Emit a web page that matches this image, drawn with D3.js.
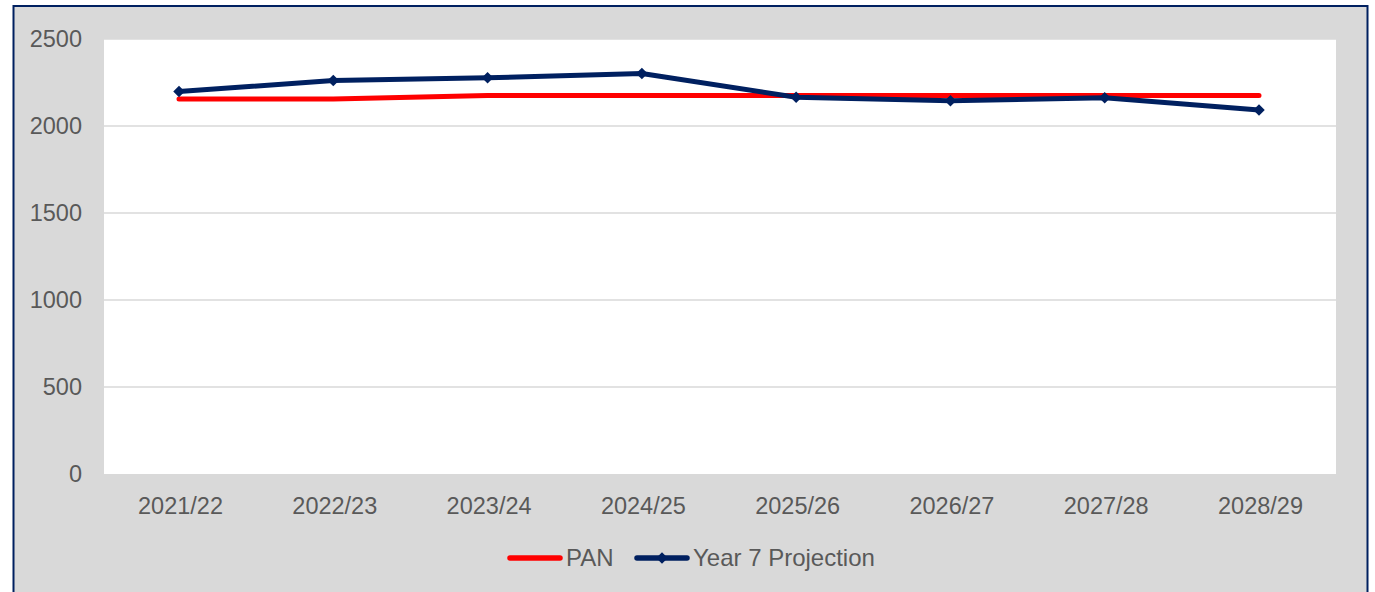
<!DOCTYPE html>
<html><head><meta charset="utf-8">
<script src="https://cdn.jsdelivr.net/npm/d3@7"></script>
<style>html,body{margin:0;padding:0;background:#fff;}svg{display:block;}</style>
</head><body>
<script>
const categories = ["2021/22","2022/23","2023/24","2024/25","2025/26","2026/27","2027/28","2028/29"];
const panValues = [2155,2155,2175,2175,2175,2175,2175,2175];
const year7Values = [2198,2262,2277,2302,2165,2145,2162,2092];
const yTicks = [0,500,1000,1500,2000,2500];
const seriesNames = ["PAN","Year 7 Projection"];

const W = 1375, H = 592;
const svg = d3.select("body").append("svg").attr("width", W).attr("height", H);
const font = "'Liberation Sans', Arial, sans-serif";

svg.append("rect").attr("x",13.5).attr("y",6).attr("width",1354).attr("height",600)
  .attr("fill","#d9d9d9").attr("stroke","#002060").attr("stroke-width",2);

const plot = {l:104, t:39, r:1336, b:474};
svg.append("rect").attr("x",plot.l).attr("y",plot.t).attr("width",plot.r-plot.l).attr("height",plot.b-plot.t).attr("fill","#fff");

const x = d3.scalePoint().domain(categories).range([plot.l+75, plot.r-77]);
const y = d3.scaleLinear().domain([0,2500]).range([plot.b, plot.t]);

svg.append("g").selectAll("line").data(yTicks.filter(t=>t>0)).join("line")
  .attr("x1",plot.l).attr("x2",plot.r).attr("y1",d=>y(d)).attr("y2",d=>y(d))
  .attr("stroke","#d9d9d9").attr("stroke-width",1.5);

const yAxis = d3.axisLeft(y).tickValues(yTicks).tickFormat(d3.format("d")).tickSize(0).tickPadding(22);
const yg = svg.append("g").attr("transform",`translate(${plot.l},0)`).call(yAxis);
yg.select(".domain").remove();
yg.selectAll("text").attr("font-family",font).attr("font-size",23.5).attr("fill","#595959");

const xAxis = d3.axisBottom(x).tickSize(0).tickPadding(23);
const xg = svg.append("g").attr("transform",`translate(1,${plot.b})`).call(xAxis);
xg.select(".domain").remove();
xg.selectAll("text").attr("font-family",font).attr("font-size",23.5).attr("fill","#595959");

const line = d3.line().x((d,i)=>x(categories[i])).y(d=>y(d));

svg.append("path").datum(panValues).attr("d",line).attr("fill","none")
  .attr("stroke","#ff0000").attr("stroke-width",5).attr("stroke-linecap","round").attr("stroke-linejoin","round");
svg.append("path").datum(year7Values).attr("d",line).attr("fill","none")
  .attr("stroke","#002060").attr("stroke-width",5).attr("stroke-linecap","round").attr("stroke-linejoin","round");

const diamond = d3.symbol().type(d3.symbolDiamond2).size(85);
svg.append("g").selectAll("path").data(year7Values).join("path")
  .attr("d",diamond).attr("transform",(d,i)=>`translate(${x(categories[i])},${y(d)})`)
  .attr("fill","#002060");

const lg = svg.append("g");
const ly = 558;
lg.append("line").attr("x1",510).attr("x2",560).attr("y1",ly).attr("y2",ly)
  .attr("stroke","#ff0000").attr("stroke-width",5.5).attr("stroke-linecap","round");
lg.append("text").attr("x",566).attr("y",ly).attr("dy","0.35em").text(seriesNames[0])
  .attr("font-family",font).attr("font-size",24).attr("fill","#595959");
lg.append("line").attr("x1",637).attr("x2",687).attr("y1",ly).attr("y2",ly)
  .attr("stroke","#002060").attr("stroke-width",5.5).attr("stroke-linecap","round");
lg.append("path").attr("d",diamond).attr("transform",`translate(662,${ly})`).attr("fill","#002060");
lg.append("text").attr("x",693).attr("y",ly).attr("dy","0.35em").text(seriesNames[1])
  .attr("font-family",font).attr("font-size",24).attr("fill","#595959");
</script>
</body></html>
